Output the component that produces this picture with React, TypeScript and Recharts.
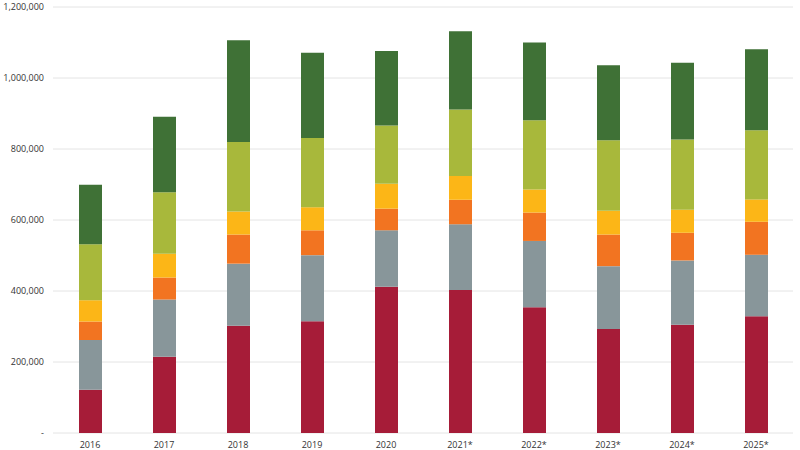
import { BarChart, Bar, XAxis, YAxis, CartesianGrid } from 'recharts';

const years = ['2016', '2017', '2018', '2019', '2020', '2021*', '2022*', '2023*', '2024*', '2025*'];

// stack order, bottom to top
const crimson = [122000, 215000, 302000, 315000, 412000, 403000, 354000, 293000, 305000, 329000];
const slate = [140000, 161000, 175000, 186000, 159000, 185000, 187000, 177000, 181000, 173000];
const orange = [52000, 62000, 82000, 70000, 61000, 69000, 80000, 89000, 78000, 93000];
const amber = [60000, 67000, 65000, 65000, 70000, 67000, 65000, 67000, 65000, 63000];
const lime = [158000, 173000, 196000, 195000, 164000, 187000, 195000, 199000, 198000, 195000];
const forest = [167000, 213000, 286000, 240000, 210000, 221000, 219000, 211000, 216000, 228000];

const yTicks = [0, 200000, 400000, 600000, 800000, 1000000, 1200000];

const series = [
  { key: 'crimson', values: crimson, color: '#A61C38' },
  { key: 'slate', values: slate, color: '#88969A' },
  { key: 'orange', values: orange, color: '#F27421' },
  { key: 'amber', values: amber, color: '#FCB617' },
  { key: 'lime', values: lime, color: '#A8B83B' },
  { key: 'forest', values: forest, color: '#3F7136' },
];

const data = years.map((year, i) => {
  const row: Record<string, string | number> = { year };
  series.forEach((s) => {
    row[s.key] = s.values[i];
  });
  return row;
});

const formatY = (v: number) => (v === 0 ? '-' : v.toLocaleString('en-US'));

const tickStyle = { fill: '#333', fontSize: 9, fontFamily: 'Open Sans, sans-serif' };

export default function App() {
  return (
    <div style={{ position: 'fixed', left: 0, top: 0, width: 800, height: 450, background: '#fff' }}>
      <BarChart
        width={800}
        height={450}
        data={data}
        margin={{ top: 7, right: 7, left: 0, bottom: 0 }}
      >
        <CartesianGrid vertical={false} stroke="#e4e4e4" />
        <XAxis
          dataKey="year"
          height={17}
          tick={tickStyle}
          tickLine={false}
          axisLine={false}
          tickMargin={3}
          interval={0}
        />
        <YAxis
          domain={[0, 1200000]}
          ticks={yTicks}
          width={53}
          tick={tickStyle}
          tickLine={false}
          axisLine={false}
          tickFormatter={formatY}
          tickMargin={3}
        />
        {series.map((s) => (
          <Bar
            key={s.key}
            dataKey={s.key}
            stackId="a"
            fill={s.color}
            barSize={23}
            isAnimationActive={false}
          />
        ))}
      </BarChart>
    </div>
  );
}
